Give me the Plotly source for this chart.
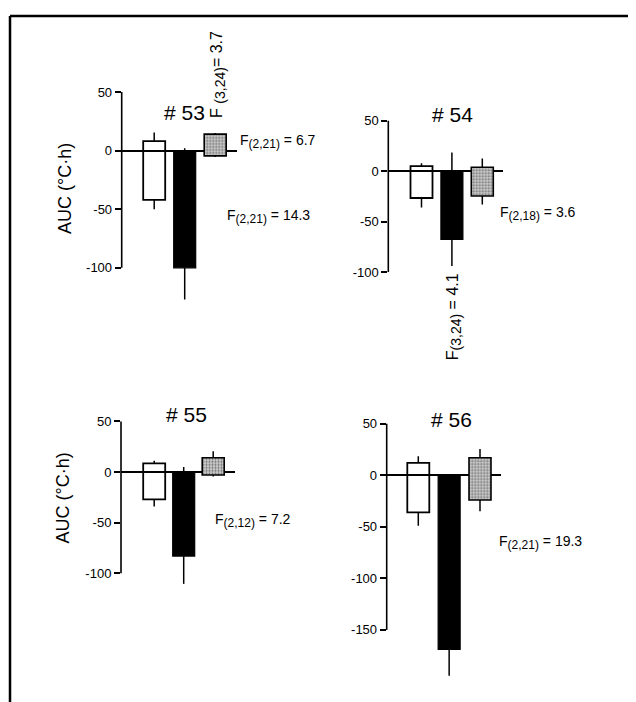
import plotly.graph_objects as go

# ---------------- data ----------------
PANEL_TITLES = ["# 53", "# 54", "# 55", "# 56"]
CONDITIONS = ["Condition A", "Condition B", "Condition C"]
TICK_VALUES = [[-100, -50, 0, 50], [-100, -50, 0, 50], [-100, -50, 0, 50], [-150, -100, -50, 0, 50]]
TICK_LABELS = [["-100", "-50", "0", "50"], ["-100", "-50", "0", "50"],
               ["-100", "-50", "0", "50"], ["-150", "-100", "-50", "0", "50"]]
Y_LABEL = "AUC (°C·h)"

# floating bars: upper and lower ends of each bar (AUC, °C·h)
BAR_TOP = [
    [8, 0, 14],
    [5, 0, 4],
    [8.5, 0, 14],
    [12, 0, 17],
]
BAR_BOTTOM = [
    [-42, -100, -4.5],
    [-26.5, -67.5, -24.5],
    [-27, -83, -3],
    [-36, -169, -24],
]
# whisker ends above the top and below the bottom of each bar
ERR_TOP = [
    [15.5, 2, 15],
    [8, 18.5, 12.5],
    [11, 5, 20.5],
    [18.5, 0, 25.5],
]
ERR_BOTTOM = [
    [-50, -127, -5.5],
    [-36, -94, -33],
    [-34, -110.5, -4.5],
    [-49, -194.5, -35],
]
SUB = '<sub><span style="font-size:12px">{}</span></sub>'
SUBV = '<sub><span style="font-size:14px">{}</span></sub>'
F_HORIZONTAL = [
    ["F" + SUB.format("(2,21)") + " = 6.7", "F" + SUB.format("(2,21)") + " = 14.3"],
    ["F" + SUB.format("(2,18)") + " = 3.6"],
    ["F" + SUB.format("(2,12)") + " = 7.2"],
    ["F" + SUB.format("(2,21)") + " = 19.3"],
]
F_VERTICAL = [["F " + SUBV.format("(3,24)") + "= 3.7"], ["F" + SUBV.format("(3,24)") + " = 4.1"], [], []]

# ---------------- layout (pixels, screen coordinates) ----------------
W, H = 636, 702
OFF = 8  # page body margin
FONT = "Liberation Sans, Arial, sans-serif"
GEOM = [
    dict(ax=121.7, c0=154.2, unit=30.5, zero=149.0, scale=1.193, right=236.7),
    dict(ax=388.3, c0=421.5, unit=30.4, zero=170.0, scale=1.027, right=502.7),
    dict(ax=121.0, c0=154.2, unit=29.5, zero=476.0, scale=1.030, right=235.0),
    dict(ax=386.7, c0=418.3, unit=30.85, zero=479.3, scale=1.049, right=501.0),
]
TITLE_POS = [(184, 110), (452, 112), (186.5, 417.5), (451, 422.7)]
FH_POS = [[(238, 140), (225, 216)], [(498, 213)], [(213, 525)], [(497, 548)]]
FV_POS = [[(218, 72)], [(453.5, 318)], [], []]
YLAB_POS = [(65, 187), None, (63, 503), None]

BAR_W_PX = 22


def px_x(p):
    return (p - OFF) / W


def px_y(p):
    return 1 - (p - OFF) / H


fig = go.Figure()
annotations = []
shapes = []

for i in range(4):
    g = GEOM[i]
    n = "" if i == 0 else str(i + 1)
    xa, ya = "x" + n, "y" + n
    xr = [(g["ax"] - g["c0"]) / g["unit"], (g["right"] - g["c0"]) / g["unit"]]
    ymin = min(ERR_BOTTOM[i]) - 6
    ymax = max(TICK_VALUES[i]) + 3
    top_px = g["zero"] - ymax * g["scale"]
    bot_px = g["zero"] - ymin * g["scale"]
    bw = BAR_W_PX / g["unit"]

    styles = [
        dict(color="rgba(0,0,0,0)", line=dict(color="black", width=1.8)),
        dict(color="black", line=dict(color="black", width=1.2)),
        dict(color="#c4c4c4", line=dict(color="black", width=1.6),
             pattern=dict(shape=".", fgcolor="#6a6a6a", bgcolor="#cdcdcd",
                          size=3, solidity=0.35, fillmode="replace")),
    ]
    for k in range(3):
        fig.add_trace(go.Bar(
            x=[CONDITIONS[k]],
            y=[BAR_TOP[i][k] - BAR_BOTTOM[i][k]],
            base=[BAR_BOTTOM[i][k]],
            width=[bw],
            marker=styles[k],
            xaxis=xa, yaxis=ya, showlegend=False, hoverinfo="skip",
        ))
    wx, wy = [], []
    for k in range(3):
        wx += [CONDITIONS[k], CONDITIONS[k], None, CONDITIONS[k], CONDITIONS[k], None]
        wy += [BAR_TOP[i][k], ERR_TOP[i][k], None, BAR_BOTTOM[i][k], ERR_BOTTOM[i][k], None]
    fig.add_trace(go.Scatter(
        x=wx, y=wy, mode="lines", line=dict(color="black", width=1.5),
        xaxis=xa, yaxis=ya, showlegend=False, hoverinfo="skip", connectgaps=False,
    ))

    fig.layout["xaxis" + n] = dict(
        domain=[px_x(g["ax"]), px_x(g["right"])], range=xr, visible=False,
        type="category", categoryarray=CONDITIONS, anchor=ya,
    )
    fig.layout["yaxis" + n] = dict(
        domain=[px_y(bot_px), px_y(top_px)], range=[ymin, ymax], anchor=xa,
        tickvals=TICK_VALUES[i], ticktext=TICK_LABELS[i],
        ticks="outside", ticklen=6, tickwidth=1.5,
        tickcolor="black", showgrid=False, showline=False,
        zeroline=True, zerolinecolor="black", zerolinewidth=1.6,
        tickfont=dict(family=FONT, size=13, color="black"),
    )
    shapes.append(dict(type="line", xref=xa + " domain", x0=0, x1=0,
                       yref=ya, y0=min(TICK_VALUES[i]), y1=max(TICK_VALUES[i]),
                       line=dict(color="black", width=1.6)))

    tx, ty = TITLE_POS[i]
    annotations.append(dict(text=PANEL_TITLES[i], x=px_x(tx), y=px_y(ty), xref="paper", yref="paper",
                            showarrow=False, xanchor="center", yanchor="middle",
                            font=dict(family=FONT, size=21, color="black")))
    for t, (fx, fy) in zip(F_HORIZONTAL[i], FH_POS[i]):
        annotations.append(dict(text=t, x=px_x(fx), y=px_y(fy), xref="paper", yref="paper",
                                showarrow=False, xanchor="left", yanchor="middle",
                                font=dict(family=FONT, size=14, color="black")))
    for t, (fx, fy) in zip(F_VERTICAL[i], FV_POS[i]):
        annotations.append(dict(text=t, x=px_x(fx), y=px_y(fy), xref="paper", yref="paper",
                                showarrow=False, xanchor="center", yanchor="middle", textangle=-90,
                                font=dict(family=FONT, size=16, color="black")))
    if YLAB_POS[i] is not None:
        lx, ly = YLAB_POS[i]
        annotations.append(dict(text=Y_LABEL, x=px_x(lx), y=px_y(ly), xref="paper", yref="paper",
                                showarrow=False, xanchor="center", yanchor="middle", textangle=-90,
                                font=dict(family=FONT, size=18, color="black")))

# page frame (top and left edges)
shapes.append(dict(type="line", xref="paper", yref="paper", x0=px_x(10), x1=1,
                   y0=px_y(12), y1=px_y(12), line=dict(color="black", width=2.5)))
shapes.append(dict(type="line", xref="paper", yref="paper", x0=px_x(10), x1=px_x(10),
                   y0=px_y(12), y1=0, line=dict(color="black", width=2.5)))

fig.update_layout(
    width=W, height=H, margin=dict(l=0, r=0, t=0, b=0),
    paper_bgcolor="white", plot_bgcolor="rgba(0,0,0,0)",
    barmode="overlay", showlegend=False,
    annotations=annotations, shapes=shapes,
    font=dict(family=FONT, color="black"),
)

fig.write_html("out.html")
